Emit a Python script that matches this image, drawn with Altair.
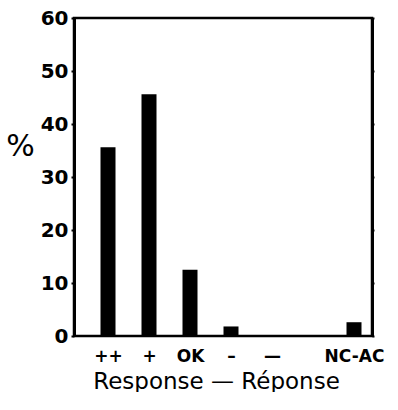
import altair as alt
import pandas as pd

categories = ["++", "+", "OK", "–", "—", " ", "NC-AC"]
values = [35.6, 45.6, 12.5, 1.8, 0, None, 2.6]
y_ticks = [0, 10, 20, 30, 40, 50, 60]

df = pd.DataFrame({"cat": categories, "val": values}).dropna()

FONT = "DejaVu Sans"

bars = alt.Chart(df).mark_bar(color="#000000", size=15).encode(
    x=alt.X("cat:N", sort=categories,
            scale=alt.Scale(type="point", domain=categories, range=[34, 280], padding=0),
            axis=alt.Axis(title="Response — Réponse", labelAngle=0, ticks=False,
                          domain=False,
                          labelFont=FONT, labelFontSize=17, labelFontWeight="bold",
                          labelColor="black", labelPadding=12,
                          titleFont=FONT, titleFontSize=23, titleFontWeight="normal",
                          titleColor="black", titlePadding=6, titleX=142, grid=False)),
    y=alt.Y("val:Q",
            scale=alt.Scale(domain=[0, 60], nice=False, zero=True),
            axis=alt.Axis(values=y_ticks, title="%", titleAngle=0,
                          titleFont=FONT, titleFontSize=30, titleFontWeight="normal",
                          titleColor="black", titleX=-54, titleY=128,
                          titleAlign="center", titleBaseline="middle",
                          labelFont=FONT, labelFontSize=20, labelFontWeight="bold",
                          labelColor="black", labelPadding=3,
                          tickSize=3, tickWidth=2, tickColor="black",
                          domainWidth=3, domainColor="black", grid=False)),
)

right = alt.Chart(pd.DataFrame({"v": y_ticks})).mark_point(opacity=0).encode(
    y=alt.Y("v:Q", scale=alt.Scale(domain=[0, 60], nice=False),
            axis=alt.Axis(orient="right", values=y_ticks, labels=False, title=None,
                          tickSize=2, tickWidth=2, tickColor="black",
                          domainWidth=3, domainColor="black", grid=False)),
)

chart = alt.layer(bars, right).resolve_scale(y="independent").properties(
    width=298, height=318,
    autosize=alt.AutoSizeParams(type="none"),
    padding={"left": 74, "top": 18, "right": 26, "bottom": 56},
    background="white",
).configure_view(stroke="black", strokeWidth=2.5)

chart.save("out.html", embed_options={"renderer": "svg", "actions": False})
